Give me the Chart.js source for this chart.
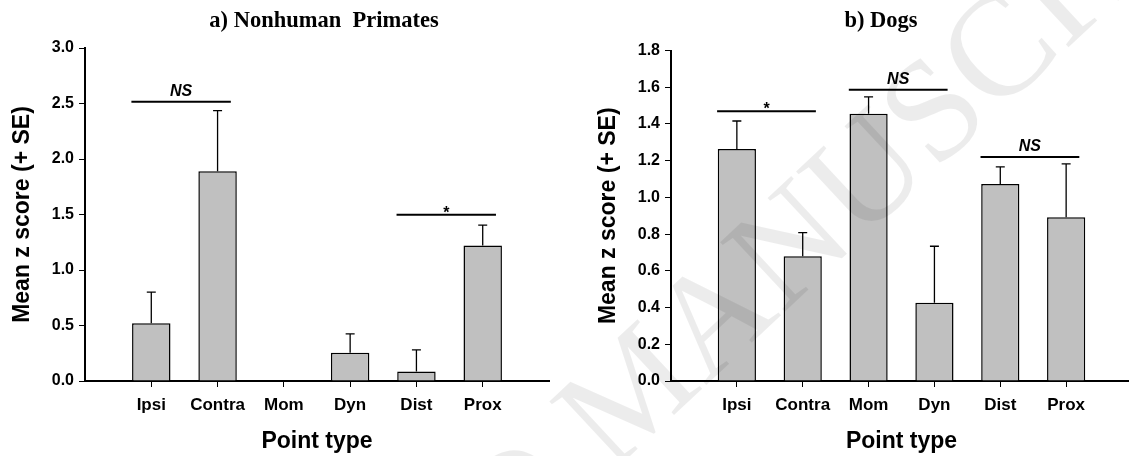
<!DOCTYPE html>
<html>
<head>
<meta charset="utf-8">
<title>Mean z score by point type</title>
<script src="https://cdn.jsdelivr.net/npm/chart.js@4.4.1/dist/chart.umd.min.js"></script>
<style>
  html, body { margin: 0; padding: 0; background: #fff; overflow: hidden; }
  #page { position: relative; width: 1129px; height: 456px; overflow: hidden; }
  canvas { position: absolute; top: 0; }
  .title {
    position: absolute; top: 9px; line-height: 22px; white-space: pre;
    font-family: "Liberation Serif", "Times New Roman", serif;
    font-weight: bold; font-size: 22.5px; color: #000;
    transform: translateX(-50%);
  }
  #watermark {
    position: absolute; left: -46px; top: 921px; line-height: 1;
    font-family: "Liberation Serif", "Times New Roman", serif;
    font-size: 145px; color: rgba(0, 0, 0, 0.075); white-space: pre;
    transform-origin: 0 0; transform: rotate(-43deg); pointer-events: none;
  }
</style>
</head>
<body>
<div id="page">
  <canvas id="primates" width="560" height="456" style="left:0"></canvas>
  <canvas id="dogs" width="580" height="456" style="left:560px"></canvas>
  <div class="title" style="left:324px">a) Nonhuman  Primates</div>
  <div class="title" style="left:881px">b) Dogs</div>
  <div id="watermark">ACCEPTED MANUSCRIPT</div>
</div>
<script>
// Data
const pointTypes = ['Ipsi', 'Contra', 'Mom', 'Dyn', 'Dist', 'Prox'];

const primateMeans = [0.52, 1.89, 0, 0.255, 0.085, 1.22];
const primateSE = [0.28, 0.545, 0, 0.17, 0.195, 0.185];
const primateBrackets = [['Ipsi', 'Contra', 2.515, 'NS'], ['Dist', 'Prox', 1.498, '*']];

const dogMeans = [1.264, 0.679, 1.456, 0.426, 1.073, 0.892];
const dogSE = [0.152, 0.129, 0.091, 0.308, 0.093, 0.29];
const dogBrackets = [['Ipsi', 'Contra', 1.469, '*'], ['Mom', 'Dyn', 1.586, 'NS'], ['Dist', 'Prox', 1.22, 'NS']];

const SANS = 'Arial, "Liberation Sans", sans-serif';

// empty slot at each end of the category axis
const labels = [''].concat(pointTypes, ['']);
const pad = arr => [null].concat(arr, [null]);

function makeChart(id, means, errors, brackets, yMax, yStep, box) {
    // error bars (+ SE only) and significance lines
    const extras = {
        id: 'extras',
        afterDatasetsDraw(chart) {
            const ctx = chart.ctx;
            const x = chart.scales.x, y = chart.scales.y;
            const meta = chart.getDatasetMeta(0);
            ctx.save();
            ctx.strokeStyle = '#000';
            ctx.lineWidth = 1.3;
            errors.forEach((se, i) => {
                if (!se) return;
                const bx = meta.data[i + 1].x;
                const y0 = y.getPixelForValue(means[i]);
                const y1 = y.getPixelForValue(means[i] + se);
                ctx.beginPath();
                ctx.moveTo(bx, y0); ctx.lineTo(bx, y1);
                ctx.moveTo(bx - 4.5, y1); ctx.lineTo(bx + 4.5, y1);
                ctx.stroke();
            });

            const slot = x.getPixelForValue(1) - x.getPixelForValue(0);
            ctx.lineWidth = 2;
            ctx.fillStyle = '#000';
            ctx.textAlign = 'center';
            ctx.textBaseline = 'alphabetic';
            brackets.forEach(b => {
                const x0 = x.getPixelForValue(labels.indexOf(b[0])) - 0.3 * slot;
                const x1 = x.getPixelForValue(labels.indexOf(b[1])) + 0.2 * slot;
                const yy = y.getPixelForValue(b[2]);
                ctx.beginPath();
                ctx.moveTo(x0, yy); ctx.lineTo(x1, yy);
                ctx.stroke();
                if (b[3] === '*') {
                    ctx.font = 'bold 16px ' + SANS;
                    ctx.fillText(b[3], (x0 + x1) / 2, yy + 3);
                } else {
                    ctx.font = 'italic bold 16px ' + SANS;
                    ctx.fillText(b[3], (x0 + x1) / 2, yy - 6);
                }
            });
            ctx.restore();
        }
    };

    return new Chart(document.getElementById(id), {
        type: 'bar',
        data: {
            labels: labels,
            datasets: [{
                data: pad(means),
                backgroundColor: '#c0c0c0',
                borderColor: '#000',
                borderWidth: 1.5,
                barPercentage: 0.58,
                categoryPercentage: 1
            }]
        },
        options: {
            responsive: false,
            animation: false,
            layout: { padding: { top: box.top, right: box.right, left: 0, bottom: 0 } },
            plugins: { legend: { display: false }, tooltip: { enabled: false } },
            scales: {
                x: {
                    offset: false,
                    afterFit: s => { s.height = 75; },
                    border: { display: true, color: '#000', width: 2 },
                    grid: {
                        offset: false,
                        drawOnChartArea: false,
                        tickLength: 6,
                        tickWidth: 1,
                        tickColor: c => (c.index === 0 || c.index === labels.length - 1) ? 'rgba(0,0,0,0)' : '#000'
                    },
                    ticks: {
                        color: '#000',
                        padding: 8,
                        maxRotation: 0,
                        autoSkip: false,
                        font: { family: SANS, size: 17, weight: 'bold' }
                    },
                    title: {
                        display: true,
                        text: 'Point type',
                        color: '#000',
                        padding: { top: 0, bottom: 1 },
                        font: { family: SANS, size: 23, weight: 'bold' }
                    }
                },
                y: {
                    min: 0,
                    max: yMax,
                    afterFit: s => { s.width = box.yWidth; },
                    border: { display: true, color: '#000', width: 2 },
                    grid: { drawOnChartArea: false, tickLength: 6, tickWidth: 1, tickColor: '#000' },
                    ticks: {
                        stepSize: yStep,
                        color: '#000',
                        padding: 5,
                        font: { family: SANS, size: 16, weight: 'bold' },
                        callback: v => v.toFixed(1)
                    },
                    title: {
                        display: true,
                        text: 'Mean z score (+ SE)',
                        color: '#000',
                        padding: { top: box.titleGap, bottom: 0 },
                        font: { family: SANS, size: 23, weight: 'bold' }
                    }
                }
            }
        },
        plugins: [extras]
    });
}

makeChart('primates', primateMeans, primateSE, primateBrackets, 3.0, 0.5,
    { top: 48, right: 11, yWidth: 85, titleGap: 9 });
makeChart('dogs', dogMeans, dogSE, dogBrackets, 1.8, 0.2,
    { top: 50.5, right: 7, yWidth: 111, titleGap: 35 });
</script>
</body>
</html>
